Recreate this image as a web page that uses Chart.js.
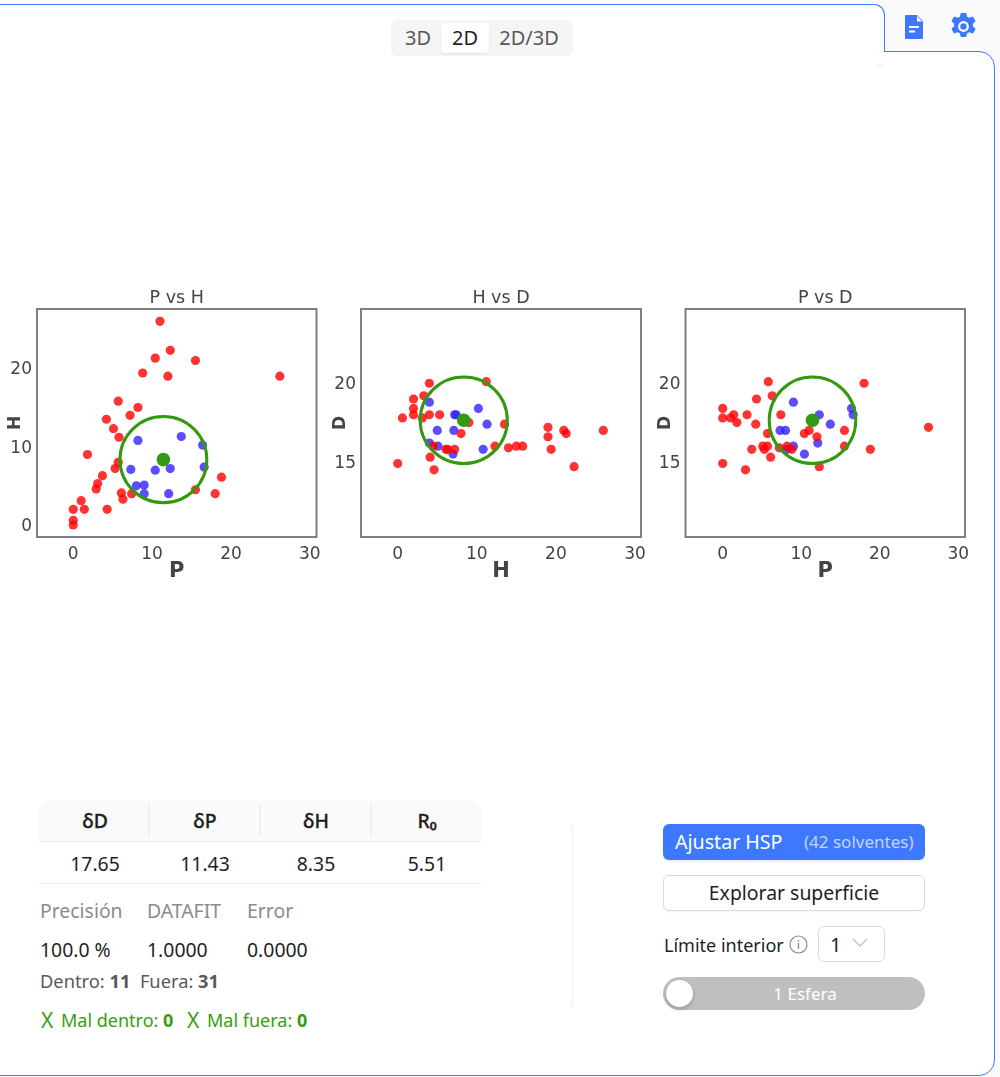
<!DOCTYPE html>
<html lang="es">
<head>
  <meta charset="UTF-8">
  <title>HSP 2D</title>
  <style>
    html, body { margin: 0; padding: 0; background: #fafafa; }
    body { width: 1000px; height: 1077px; position: relative; overflow: hidden; font-family: "Noto Sans", "Open Sans", sans-serif; color: #1f1f1f; }
    .abs { position: absolute; white-space: nowrap; }
    #sheet { position: absolute; left: -2px; top: 51px; width: 995px; height: 1023px; background: #fff; border: 1px solid #3d7bff; border-radius: 0 16px 16px 0; }
    #tab { position: absolute; left: -2px; top: 4px; width: 887px; height: 48px; background: #fff; border: 1px solid #3d7bff; border-bottom: none; border-radius: 0 11px 0 0; box-sizing: border-box; }
    #tabFill { position: absolute; left: 0; top: 50px; width: 884px; height: 3px; background: #fff; }
    #speck { position: absolute; left: 875px; top: 64px; width: 9px; height: 3px; background: #f7f7f7; }
    #segment { position: absolute; left: 391px; top: 20px; width: 182px; height: 36px; background: #f5f5f5; border-radius: 6px; }
    #segment span { position: absolute; top: 3px; height: 30px; line-height: 30px; text-align: center; font-size: 20px; color: #595959; }
    #segment .on { background: #fff; color: #1f1f1f; border-radius: 4px; box-shadow: 0 1px 2px rgba(0,0,0,.08); }
    canvas { position: absolute; top: 280px; }
    #tableHead { position: absolute; left: 39px; top: 800px; width: 442px; height: 41px; background: #fafafa; border-radius: 10px 10px 0 0; border-bottom: 1px solid #f0f0f0; }
    .sep { position: absolute; top: 803px; width: 2px; height: 34px; background: #f0f0f0; }
    .th, .td { position: absolute; width: 110px; text-align: center; font-size: 19.400px; line-height: 28px; }
    .th { top: 807px; font-weight: 500; -webkit-text-stroke: 0.3px #1f1f1f; }
    .td { top: 850px; }
    .lab { color: #8c8c8c; font-size: 19.400px; line-height: 28px; top: 897px; }
    .val { font-size: 19.400px; line-height: 28px; top: 936px; }
    #counts { left: 40px; top: 968px; font-size: 18.300px; line-height: 26px; color: #595959; }
    .wrong { top: 1007px; font-size: 18px; line-height: 26px; color: #389e0d; }
    .cross { top: 1006px; font-size: 21px; line-height: 28px; color: #389e0d; }
    #divider { position: absolute; left: 572px; top: 825px; width: 1px; height: 182px; background: #f0f0f0; }
    #fit { position: absolute; left: 663px; top: 824px; width: 262px; height: 36px; background: #3d78ff; border-radius: 6px; box-shadow: 0 2px 0 rgba(61,120,255,.1); color: #fff; }
    #explore { position: absolute; left: 663px; top: 875px; width: 262px; height: 36px; box-sizing: border-box; border: 1px solid #d9d9d9; border-radius: 6px; text-align: center; font-size: 19.400px; line-height: 34px; box-shadow: 0 2px 0 rgba(0,0,0,.02); }
    #select { position: absolute; left: 818px; top: 926px; width: 67px; height: 36px; box-sizing: border-box; border: 1px solid #d9d9d9; border-radius: 6px; }
    #switch { position: absolute; left: 663px; top: 977px; width: 262px; height: 33px; background: #bfbfbf; border-radius: 17px; color: #fff; font-size: 17px; line-height: 33px; text-align: center; }
    #knob { position: absolute; left: 3px; top: 3px; width: 27px; height: 27px; background: #fff; border-radius: 50%; box-shadow: 0 2px 4px rgba(0,35,11,.25); }
  </style>
</head>
<body>
  <div id="sheet"></div>
  <div id="tab"></div>
  <div id="tabFill"></div>
  <div id="speck"></div>

  <svg class="abs" style="left:905px;top:15px" width="18" height="24" viewBox="0 0 18 24">
    <path fill="#3d78ff" d="M1 0h11l6 6.500v16.500a1 1 0 0 1-1 1H1a1 1 0 0 1-1-1V1a1 1 0 0 1 1-1z"/>
    <path fill="#fff" d="M12 1l5 5.500h-5z"/>
    <rect x="4" y="11" width="10" height="2" fill="#fff"/>
    <rect x="4" y="15.500" width="6" height="2" fill="#fff"/>
  </svg>
  <svg class="abs" style="left:950px;top:13px" width="27" height="27" viewBox="0 0 27 27">
    <path fill="#3d78ff" stroke="#3d78ff" stroke-width="2" stroke-linejoin="round" d="M11.500 1h4l.8 3.400 3 1.500 3.100-1.300 2 3.500-2.500 2.200v3.400l2.500 2.200-2 3.500-3.100-1.300-3 1.500-.8 3.400h-4l-.8-3.400-3-1.500-3.100 1.300-2-3.500 2.500-2.200v-3.400l-2.500-2.200 2-3.500 3.100 1.300 3-1.500z"/>
    <circle cx="13.500" cy="13.500" r="4.300" fill="#3d78ff" stroke="#fff" stroke-width="2.200"/>
  </svg>

  <div id="segment">
    <span style="left:2px;width:50px">3D</span>
    <span class="on" style="left:50px;width:48px">2D</span>
    <span style="left:96px;width:84px">2D/3D</span>
  </div>

  <canvas id="plotPH" width="325" height="310" style="left:0"></canvas>
  <canvas id="plotHD" width="325" height="310" style="left:325px"></canvas>
  <canvas id="plotPD" width="325" height="310" style="left:650px"></canvas>

  <div id="tableHead"></div>
  <div class="sep" style="left:148px"></div>
  <div class="sep" style="left:259px"></div>
  <div class="sep" style="left:370px"></div>
  <div class="th" style="left:40px">δD</div>
  <div class="th" style="left:150px">δP</div>
  <div class="th" style="left:261px">δH</div>
  <div class="th" style="left:372px">R₀</div>
  <div class="td" style="left:40px">17.65</div>
  <div class="td" style="left:150px">11.43</div>
  <div class="td" style="left:261px">8.35</div>
  <div class="td" style="left:372px">5.51</div>
  <div class="abs" style="left:39px;top:883px;width:442px;height:1px;background:#f0f0f0"></div>

  <div class="abs lab" style="left:40px">Precisión</div>
  <div class="abs lab" style="left:147px">DATAFIT</div>
  <div class="abs lab" style="left:247px">Error</div>
  <div class="abs val" style="left:40px">100.0 %</div>
  <div class="abs val" style="left:147px">1.0000</div>
  <div class="abs val" style="left:247px">0.0000</div>
  <div class="abs" id="counts">Dentro: <b>11</b>&nbsp; Fuera: <b>31</b></div>
  <div class="abs cross" style="left:41px">X</div>
  <div class="abs wrong" style="left:61px">Mal dentro: <b>0</b></div>
  <div class="abs cross" style="left:187px">X</div>
  <div class="abs wrong" style="left:207px">Mal fuera: <b>0</b></div>

  <div id="divider"></div>

  <div id="fit">
    <span class="abs" style="left:12px;top:4px;font-size:19.600px;line-height:28px">Ajustar HSP</span>
    <span class="abs" style="left:141px;top:6px;font-size:17px;line-height:24px;color:rgba(255,255,255,.7)">(42 solventes)</span>
  </div>
  <div id="explore">Explorar superficie</div>
  <div class="abs" style="left:664px;top:932px;font-size:18px;line-height:26px">Límite interior</div>
  <svg class="abs" style="left:789px;top:935px" width="19" height="19" viewBox="0 0 19 19">
    <circle cx="9.500" cy="9.500" r="8.500" fill="none" stroke="#8c8c8c" stroke-width="1.200"/>
    <rect x="8.800" y="8" width="1.400" height="6" fill="#8c8c8c"/>
    <rect x="8.800" y="5" width="1.400" height="1.600" fill="#8c8c8c"/>
  </svg>
  <div id="select">
    <span class="abs" style="left:11px;top:4px;font-size:20px;line-height:28px">1</span>
    <svg class="abs" style="left:33px;top:11px" width="16" height="10" viewBox="0 0 16 10">
      <path d="M1 1l7 7 7-7" fill="none" stroke="#bfbfbf" stroke-width="1.300"/>
    </svg>
  </div>
  <div id="switch"><div id="knob"></div><span style="margin-left:22px">1 Esfera</span></div>

  <script src="https://cdn.jsdelivr.net/npm/chart.js"></script>
  <script>
    // solvents outside the sphere
    const redD = [17.0, 14.7, 16.8, 17.0, 15.8, 16.6, 17.2, 16.0, 16.0, 15.9, 17.4, 16.0, 20.1, 17.5, 16.8, 15.8, 15.8, 18.0, 14.5, 15.3, 19.2, 18.0, 16.0, 20.0, 15.8, 17.8, 18.0, 19.0, 18.4, 17.8, 14.9];
    const redP = [11.0, 12.3, 10.4, 15.5, 8.8, 12.0, 26.2, 5.7, 8.2, 7.2, 4.2, 5.1, 5.8, 1.8, 5.7, 5.3, 3.7, 3.1, 2.9, 6.1, 6.3, 7.4, 15.5, 18.0, 18.8, 1.0, 1.4, 4.3, 0, 0, 0];
    const redH = [26.0, 22.3, 21.3, 21.0, 19.4, 19.0, 19.0, 15.8, 15.0, 14.0, 13.5, 12.3, 11.2, 9.0, 8.0, 7.2, 6.3, 5.3, 4.6, 4.1, 3.3, 4.0, 4.5, 4.0, 6.1, 3.1, 2.0, 2.0, 2.0, 0.6, 0];

    // solvents inside the sphere
    const blueD = [15.8, 17.4, 18.4, 17.0, 15.5, 18.0, 18.0, 17.0, 16.0, 18.8, 16.2];
    const blueP = [8.2, 13.7, 16.4, 7.3, 10.4, 12.3, 16.6, 8.0, 9.0, 9.0, 12.1];
    const blueH = [10.8, 11.3, 10.2, 7.1, 7.0, 7.2, 7.4, 5.0, 5.1, 4.0, 4.0];

    // fitted sphere
    const centerD = 17.65;
    const centerP = 11.43;
    const centerH = 8.35;
    const radius = 5.51;

    const hspTicks = [0, 10, 20, 30];
    const hTicks = [0, 10, 20];
    const dTicks = [15, 20];

    const pair = (xs, ys) => xs.map((x, i) => ({ x: x, y: ys[i] }));

    // circle of the sphere section plus the plot frame, both in scale coordinates
    const spherePlugin = {
      id: 'sphere',
      afterDatasetsDraw(chart, args, opts) {
        const { ctx, chartArea, scales } = chart;
        const cx = scales.x.getPixelForValue(opts.cx);
        const cy = scales.y.getPixelForValue(opts.cy);
        const rx = Math.abs(scales.x.getPixelForValue(opts.cx + opts.rx) - cx);
        const ry = Math.abs(scales.y.getPixelForValue(opts.cy + opts.ry) - cy);
        ctx.save();
        ctx.beginPath();
        ctx.ellipse(cx, cy, rx, ry, 0, 0, Math.PI * 2);
        ctx.lineWidth = 3;
        ctx.strokeStyle = '#339911';
        ctx.stroke();
        ctx.beginPath();
        ctx.rect(chartArea.left, chartArea.top, chartArea.width, chartArea.height);
        ctx.lineWidth = 2;
        ctx.strokeStyle = '#7f7f7f';
        ctx.stroke();
        ctx.restore();
      }
    };

    function makePlot(id, cfg) {
      const axisFont = { family: '"DejaVu Sans"', size: 17 };
      return new Chart(document.getElementById(id), {
        type: 'scatter',
        plugins: [spherePlugin],
        data: {
          datasets: [
            { data: [{ x: cfg.cx, y: cfg.cy }], pointRadius: 6.8, backgroundColor: '#339911', borderWidth: 0 },
            { data: cfg.red, pointRadius: 4.6, backgroundColor: 'rgba(255,0,0,0.8)', borderWidth: 0 },
            { data: cfg.blue, pointRadius: 4.6, backgroundColor: 'rgba(51,34,255,0.8)', borderWidth: 0 }
          ]
        },
        options: {
          responsive: false,
          animation: false,
          layout: { padding: { right: cfg.padRight } },
          plugins: {
            legend: { display: false },
            tooltip: { enabled: false },
            title: {
              display: true,
              fullSize: false,
              text: cfg.title,
              color: '#444',
              font: { family: '"DejaVu Sans"', size: 17.500, weight: 'normal', lineHeight: 1.2 },
              padding: { top: 8, bottom: 0 }
            },
            sphere: { cx: cfg.cx, cy: cfg.cy, rx: radius, ry: cfg.ry }
          },
          scales: {
            x: {
              min: cfg.xMin,
              max: cfg.xMax,
              afterBuildTicks: ax => { ax.ticks = hspTicks.map(v => ({ value: v })); },
              afterFit: ax => { ax.height = 53; ax.paddingLeft = 0; ax.paddingRight = 0; },
              grid: { display: false, drawTicks: false },
              border: { display: false },
              ticks: { color: '#444', font: axisFont, padding: 7, maxRotation: 0 },
              title: {
                display: true,
                text: cfg.xLabel,
                color: '#444',
                font: { family: '"DejaVu Sans"', size: 21, weight: 'bold' },
                padding: { top: 0, bottom: 6 }
              }
            },
            y: {
              min: cfg.yMin,
              max: cfg.yMax,
              afterBuildTicks: ax => { ax.ticks = cfg.yTicks.map(v => ({ value: v })); },
              afterFit: ax => { ax.width = cfg.yWidth; },
              grid: { display: false, drawTicks: false },
              border: { display: false },
              ticks: { color: '#444', font: axisFont, padding: 5, labelOffset: 1.500 },
              title: {
                display: true,
                text: cfg.yLabel,
                color: '#444',
                font: { family: '"DejaVu Sans"', size: 17, weight: 'bold' },
                padding: { top: 5, bottom: 0 }
              }
            }
          }
        }
      });
    }

    makePlot('plotPH', {
      title: 'P vs H', xLabel: 'P', yLabel: 'H',
      red: pair(redP, redH), blue: pair(blueP, blueH),
      cx: centerP, cy: centerH, ry: radius,
      xMin: -4.6, xMax: 30.85, yMin: -1.53, yMax: 27.57, yTicks: hTicks,
      yWidth: 37, padRight: 8.500
    });
    makePlot('plotHD', {
      title: 'H vs D', xLabel: 'H', yLabel: 'D',
      red: pair(redH, redD), blue: pair(blueH, blueD),
      cx: centerH, cy: centerD, ry: radius / 2,
      xMin: -4.64, xMax: 30.76, yMin: 10.23, yMax: 24.72, yTicks: dTicks,
      yWidth: 36, padRight: 9
    });
    makePlot('plotPD', {
      title: 'P vs D', xLabel: 'P', yLabel: 'D',
      red: pair(redP, redD), blue: pair(blueP, blueD),
      cx: centerP, cy: centerD, ry: radius / 2,
      xMin: -4.74, xMax: 30.85, yMin: 10.23, yMax: 24.72, yTicks: dTicks,
      yWidth: 35.500, padRight: 10
    });
  </script>
</body>
</html>
